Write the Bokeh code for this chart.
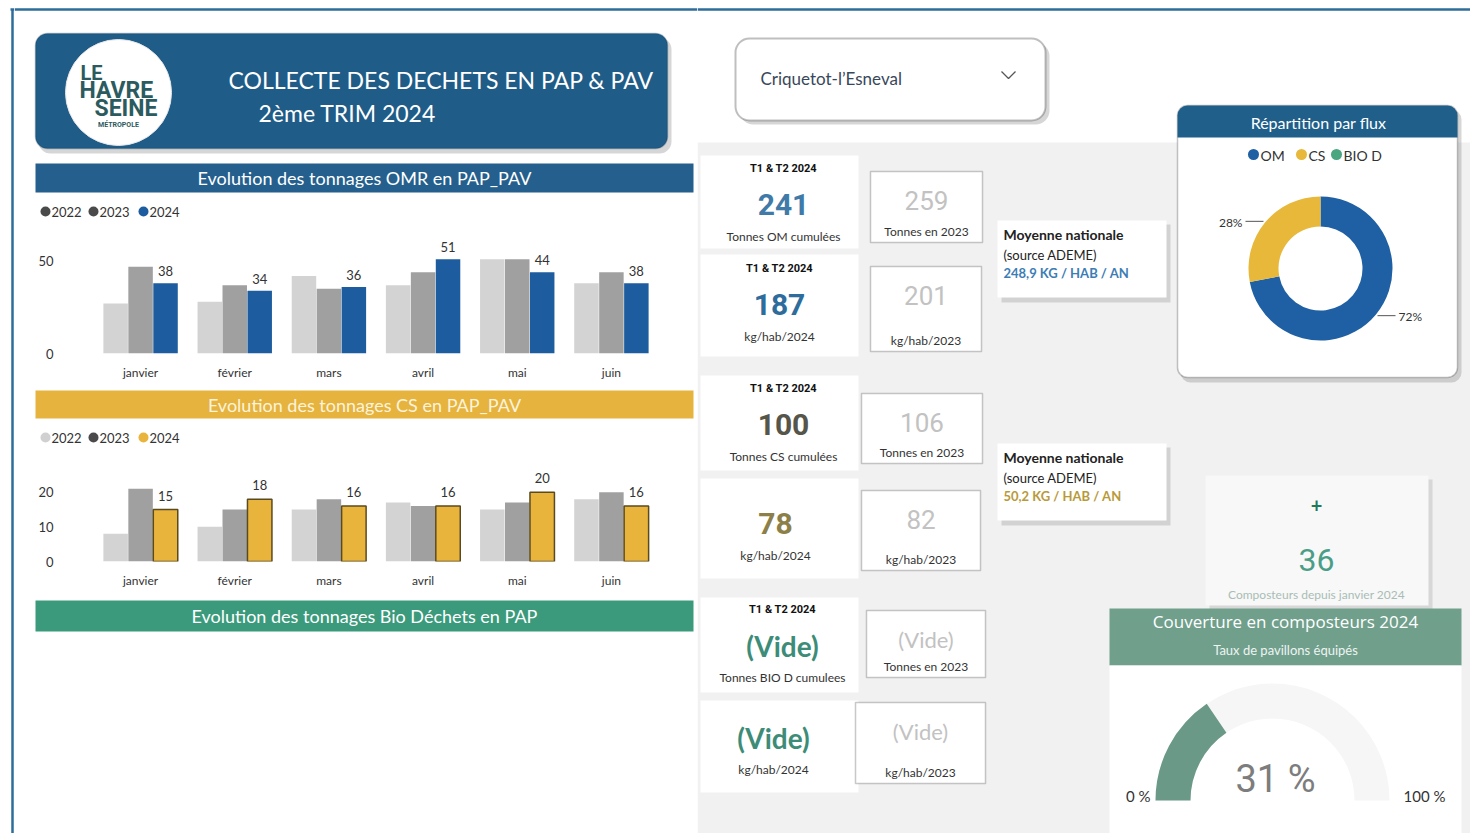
import math
from bokeh.plotting import figure
from bokeh.models import Range1d, FactorRange, BoxAnnotation, FixedTicker, ColumnDataSource
from bokeh.layouts import row, column
from bokeh.transform import dodge
from bokeh.core.properties import value
from bokeh.embed import file_html
from bokeh.resources import INLINE

# ---------------- data ----------------
months = ["janvier", "février", "mars", "avril", "mai", "juin"]
years = ["2022", "2023", "2024"]
omr_2022 = [27, 28, 42, 37, 51, 38]
omr_2023 = [47, 37, 35, 44, 51, 44]
omr_2024 = [38, 34, 36, 51, 44, 38]
omr_ticks = [0, 50]
cs_2022 = [8, 10, 15, 17, 15, 18]
cs_2023 = [21, 15, 18, 16, 17, 20]
cs_2024 = [15, 18, 16, 16, 20, 16]
cs_ticks = [0, 10, 20]

kpi_period = "T1 & T2 2024"
om_t_2024, om_t_2023 = 241, 259
om_kg_2024, om_kg_2023 = 187, 201
cs_t_2024, cs_t_2023 = 100, 106
cs_kg_2024, cs_kg_2023 = 78, 82
bio_t_2024, bio_t_2023, bio_kg_2024, bio_kg_2023 = "(Vide)", "(Vide)", "(Vide)", "(Vide)"
ademe_om = "248,9 KG / HAB / AN"
ademe_cs = "50,2 KG / HAB / AN"

flux = ["OM", "CS", "BIO D"]
flux_pct = [72, 28, 0]
composteurs_2024 = 36
couverture_pct = 31
commune = "Criquetot-l’Esneval"

# ---------------- style ----------------
FONT = "Lato"
NUM = "Roboto"
BORDER = "#2e6c9a"
C_HEAD = "#1f5c87"
C_OMR = "#255f8d"
C_CS = "#e5b33e"
C_BIO = "#3a9a7b"
C_22 = "#d3d3d3"
C_23 = "#a0a0a0"
C_24_OM = "#1d5c9f"
C_24_CS = "#e8b43c"
FLUX_COLORS = ["#1f5fa3", "#e8b83a", "#4aa680"]
C_GAUGE = "#6a9a87"
C_COUV = "#709f8c"
GRAYBG = "#f1f1f1"
W_END, H_END = 1470, 833


def canvas(x0, x1, y0, y1, bg="#ffffff"):
    p = figure(width=x1 - x0, height=y1 - y0,
               x_range=Range1d(x0, x1), y_range=Range1d(y1, y0),
               output_backend="svg", toolbar_location=None,
               x_axis_location=None, y_axis_location=None,
               min_border=0, background_fill_color=bg, border_fill_color=bg)
    p.grid.visible = False
    p.outline_line_color = None
    p.frame_align = False
    return p


def txt(p, x, y, s, size=13, color="#333333", align="center", bold=False,
        font=FONT, alpha=1.0, baseline="middle"):
    p.text(x=[x], y=[y], text=[s], text_font=value(font),
           text_font_size=f"{size}px", text_color=color, text_alpha=alpha,
           text_align=align, text_baseline=baseline,
           text_font_style="bold" if bold else "normal")


def box(p, l, r, t, b, fill="#ffffff", line=None, lw=1.0, radius=0, alpha=1.0):
    p.add_layout(BoxAnnotation(left=l, right=r, top=t, bottom=b,
                               fill_color=fill, fill_alpha=alpha,
                               line_color=line, line_width=lw,
                               border_radius=radius, level="underlay"))


def legend(p, y, colors):
    xs = [45, 93, 143]
    p.scatter(x=xs, y=[y] * 3, size=10, fill_color=colors, line_color=None)
    for xx, yr in zip(xs, years):
        txt(p, xx + 6, y, yr, size=13, align="left")


def bar_chart(y0, y1, frame_t, frame_b, ppu, s22, s23, s24, c24, line24, ticks, lab_off, std_x):
    X0, X1, FL, FR = 14, 697, 93, 658
    top = (frame_b - frame_t) / ppu
    p = figure(width=X1 - X0, height=y1 - y0,
               x_range=FactorRange(factors=months), y_range=Range1d(0, top),
               output_backend="svg", toolbar_location=None,
               background_fill_color="#ffffff", border_fill_color="#ffffff")
    p.frame_align = False
    p.min_border_left = FL - X0
    p.min_border_right = X1 - FR
    p.min_border_top = frame_t - y0
    p.min_border_bottom = y1 - frame_b
    p.grid.visible = False
    p.outline_line_color = None
    src = ColumnDataSource(dict(m=months, a=s22, b=s23, c=s24, lab=[str(v) for v in s24]))
    p.vbar(x=dodge("m", -0.265, range=p.x_range), top="a", width=0.26, source=src,
           fill_color=C_22, line_color=None)
    p.vbar(x=dodge("m", 0.0, range=p.x_range), top="b", width=0.26, source=src,
           fill_color=C_23, line_color=None)
    p.vbar(x=dodge("m", 0.265, range=p.x_range), top="c", width=0.26, source=src,
           fill_color=c24, line_color=line24, line_width=1.5)
    p.text(x=dodge("m", 0.265, range=p.x_range), y="c", text="lab", source=src,
           y_offset=-lab_off, text_align="center", text_baseline="bottom",
           text_font=value(FONT), text_font_size="13px", text_color="#333333")
    p.yaxis.ticker = FixedTicker(ticks=ticks)
    p.yaxis.major_label_standoff = 34
    p.xaxis.major_label_standoff = std_x
    for ax in (p.xaxis, p.yaxis):
        ax.axis_line_color = None
        ax.major_tick_line_color = None
        ax.minor_tick_line_color = None
        ax.major_label_text_font = FONT
        ax.major_label_text_color = "#333333"
    p.yaxis.major_label_text_font_size = "13px"
    p.xaxis.major_label_text_font_size = "12px"
    return p


# ---------------- left border strip ----------------
strip = canvas(0, 14, 0, H_END)
strip.line([12, 12], [9, H_END], line_color=BORDER, line_width=2.5)
strip.line([10, 14], [9, 9], line_color=BORDER, line_width=2.5)

# ---------------- header + OMR banner ----------------
head = canvas(14, 697, 0, 228)
head.line([14, 697], [9, 9], line_color=BORDER, line_width=2.5)
box(head, 38, 671, 37, 153, fill="#8a8a8a", alpha=0.35, radius=12)
box(head, 35, 667, 33, 148, fill=C_HEAD, line="#163f5e", lw=1.5, radius=12)
head.circle(x=[118], y=[92], radius=53, fill_color="#ffffff", line_color="#e8e8e8")
txt(head, 80, 72, "LE", size=20, color="#2b5b5e", align="left", bold=True, font=NUM)
txt(head, 79, 90, "HAVRE", size=23, color="#2b5b5e", align="left", bold=True, font=NUM)
txt(head, 157, 108, "SEINE", size=23, color="#2b5b5e", align="right", bold=True, font=NUM)
txt(head, 118, 124, "MÉTROPOLE", size=7, color="#2b5b5e", bold=True, font=NUM)
txt(head, 228, 79, "COLLECTE DES DECHETS EN PAP & PAV", size=23, color="#ffffff", align="left")
txt(head, 258, 112, "2ème TRIM 2024", size=23, color="#ffffff", align="left")
box(head, 35, 693, 163, 192, fill=C_OMR)
txt(head, 364, 177, "Evolution des tonnages OMR en PAP_PAV", size=18, color="#ffffff")
legend(head, 211, ["#4a4a4a", "#4a4a4a", C_24_OM])

omr = bar_chart(228, 382, 235, 357, 1.91, omr_2022, omr_2023, omr_2024,
                C_24_OM, None, omr_ticks, 7, 5)

mid = canvas(14, 697, 382, 460)
box(mid, 35, 693, 390, 418, fill=C_CS)
txt(mid, 364, 404, "Evolution des tonnages CS en PAP_PAV", size=18, color="#fdf3dc")
legend(mid, 437, ["#d0d0d0", "#4a4a4a", C_24_CS])

cs = bar_chart(460, 590, 466, 568, 3.72, cs_2022, cs_2023, cs_2024,
               C_24_CS, "#5a4a20", cs_ticks, 9, 5)

bottom = canvas(14, 697, 590, H_END)
box(bottom, 35, 693, 600, 631, fill=C_BIO)
txt(bottom, 364, 615, "Evolution des tonnages Bio Déchets en PAP", size=18, color="#ffffff")

left = column(head, omr, mid, cs, bottom, spacing=0)

# ---------------- right part ----------------
r = canvas(697, W_END, 0, H_END)
r.line([697, W_END], [9, 9], line_color=BORDER, line_width=2.5)
box(r, 697, W_END, 142, H_END, fill=GRAYBG)

# dropdown
box(r, 739, 1049, 42, 124, fill="#8a8a8a", alpha=0.35, radius=14)
box(r, 735, 1045, 38, 120, fill="#ffffff", line="#2a2a2a", lw=2, radius=14)
txt(r, 760, 78, commune, size=17, color="#39475a", align="left")
r.line([1001, 1008, 1015], [71, 78, 71], line_color="#555555", line_width=1.3)


def kpi(p, cx, ytop, num, ncol, label, box_lrtb, prev, prev_label, period=True,
        nsize=30, nbold=True, nfont=NUM, psize=26):
    if period:
        txt(p, cx, ytop, kpi_period, size=11, color="#111111", bold=True, font=NUM)
    txt(p, cx, ytop + 36, str(num), size=nsize, color=ncol, bold=nbold, font=nfont)
    txt(p, cx, ytop + 68, label, size=12)
    l, rr, t, b = box_lrtb
    box(p, l, rr, t, b, fill="#ffffff", line="#4a4a4a", lw=1.5)
    txt(p, (l + rr) / 2, t + 29, str(prev), size=psize, color="#c2c2c2", font=nfont)
    txt(p, (l + rr) / 2, b - 11, prev_label, size=12)


# KPI white cards
for (t, b) in [(155, 248), (254, 356), (375, 470), (478, 578), (597, 692), (700, 792)]:
    box(r, 700, 858, t, b, fill="#ffffff")

kpi(r, 783, 168, om_t_2024, "#3f7aa8", "Tonnes OM cumulées", (870, 982, 171, 242),
    om_t_2023, "Tonnes en 2023")
kpi(r, 779, 268, om_kg_2024, "#2e6c9c", "kg/hab/2024", (870, 981, 266, 351),
    om_kg_2023, "kg/hab/2023")
kpi(r, 783, 388, cs_t_2024, "#55554a", "Tonnes CS cumulées", (861, 982, 393, 463),
    cs_t_2023, "Tonnes en 2023")
kpi(r, 775, 487, cs_kg_2024, "#8d7f48", "kg/hab/2024", (861, 980, 490, 570),
    cs_kg_2023, "kg/hab/2023", period=False)
kpi(r, 782, 609, bio_t_2024, "#3d8c77", "Tonnes BIO D cumulees", (866, 985, 610, 677),
    bio_t_2023, "Tonnes en 2023", nsize=28, nfont=FONT, psize=22)
kpi(r, 773, 701, bio_kg_2024, "#3d8c77", "kg/hab/2024", (855, 985, 702, 783),
    bio_kg_2023, "kg/hab/2023", period=False, nsize=28, nfont=FONT, psize=22)

# ADEME cards
for (t, b, val, col) in [(220, 297, ademe_om, "#3c7db5"), (443, 520, ademe_cs, "#b89a3a")]:
    box(r, 1001, 1170, t + 4, b + 5, fill="#8a8a8a", alpha=0.3)
    box(r, 997, 1166, t, b, fill="#ffffff")
    txt(r, 1003, t + 14, "Moyenne nationale", size=14, color="#222222", align="left", bold=True)
    txt(r, 1003, t + 34, "(source ADEME)", size=13, color="#222222", align="left")
    txt(r, 1003, t + 52, val, size=13, color=col, align="left", bold=True)

# donut card
box(r, 1180, 1461, 109, 382, fill="#8a8a8a", alpha=0.35, radius=10)
box(r, 1177, 1457, 105, 377, fill="#ffffff", line="#3a3a3a", lw=1.5, radius=10)
box(r, 1177, 1457, 105, 137, fill="#1f5f8a", radius=(10, 10, 0, 0))
txt(r, 1318, 122, "Répartition par flux", size=16, color="#ffffff")
lx = [1253, 1301, 1336]
r.scatter(x=lx, y=[154] * 3, size=11, fill_color=FLUX_COLORS, line_color=None)
for xx, f in zip(lx, flux):
    txt(r, xx + 7, 155, f, size=14, align="left")

cx, cy, R_out, R_in = 1320, 268, 72, 42
total = sum(flux_pct)
ws, we, wc, mids, vals = [], [], [], [], []
a = math.pi / 2
for v, col in zip(flux_pct, FLUX_COLORS):
    e = a - 2 * math.pi * v / total
    if v > 0:
        ws.append(e)
        we.append(a)
        wc.append(col)
        mids.append((a + e) / 2)
        vals.append(v)
    a = e
dsrc = ColumnDataSource(dict(s=ws, e=we, c=wc, x=[cx] * len(ws), y=[cy] * len(ws)))
r.annular_wedge(x="x", y="y", inner_radius=R_in, outer_radius=R_out, start_angle="s",
                end_angle="e", fill_color="c", line_color=None, source=dsrc)
for v, m in zip(vals, mids):
    ex = cx + (R_out + 2) * math.cos(m)
    ey = cy - (R_out + 2) * math.sin(m)
    sgn = 1 if math.cos(m) > 0 else -1
    r.line([ex, ex + sgn * 18], [ey, ey], line_color="#555555", line_width=1)
    txt(r, ex + sgn * 21, ey + 1, f"{v}%", size=12, color="#333333",
        align="left" if sgn > 0 else "right")

# composteurs card
box(r, 1209, 1432, 479, 609, fill="#8a8a8a", alpha=0.25)
box(r, 1205, 1428, 475, 605, fill="#f8f8f8")
txt(r, 1316, 505, "+", size=20, color="#1f7a5a", bold=True)
txt(r, 1316, 559, str(composteurs_2024), size=32, color="#4a9e87", font=NUM)
txt(r, 1316, 594, "Composteurs depuis janvier 2024", size=12, color="#a8bdb5")

# couverture banner + gauge
box(r, 1109, 1461, 608, 665, fill=C_COUV)
txt(r, 1285, 621, "Couverture en composteurs 2024", size=17, color="#ffffff", font="Open Sans")
txt(r, 1285, 649, "Taux de pavillons équipés", size=13, color="#eef4f1")
box(r, 1109, 1461, 665, H_END, fill="#ffffff")
gx, gy, G_out, G_in = 1272, 800, 117, 82
gsrc = ColumnDataSource(dict(x=[gx, gx], y=[gy, gy],
                             s=[0.0, math.pi - math.pi * couverture_pct / 100],
                             e=[math.pi, math.pi],
                             c=["#f6f6f6", C_GAUGE]))
r.annular_wedge(x="x", y="y", inner_radius=G_in, outer_radius=G_out, start_angle="s",
                end_angle="e", fill_color="c", line_color=None, source=gsrc)
txt(r, gx + 3, 778, f"{couverture_pct} %", size=38, color="#7d7d7d", font=NUM)
txt(r, gx - G_out - 5, 795, "0 %", size=15, color="#333333", align="right")
txt(r, gx + G_out + 14, 795, "100 %", size=15, color="#333333", align="left")

layout = row(strip, left, r, spacing=0)

open("out.html", "w").write(file_html(layout, INLINE))
